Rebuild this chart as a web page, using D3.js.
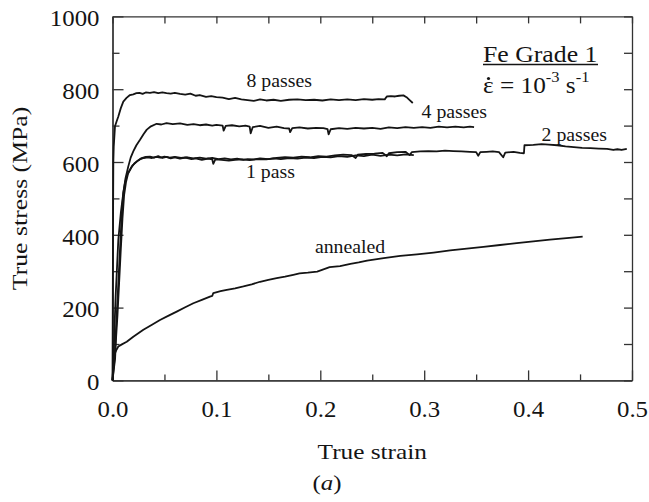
<!DOCTYPE html>
<html>
<head>
<meta charset="utf-8">
<script src="https://cdn.jsdelivr.net/npm/d3@7"></script>
<style>
  body { margin: 0; background: #fff; }
  svg { display: block; font-family: "Liberation Serif", "Times New Roman", serif; }
</style>
</head>
<body>
<svg id="chart" width="649" height="502"></svg>
<script>
// curves: [true strain, true stress (MPa)]
var pass8 = [[0,0],[0.0003,250],[0.0006,480],[0.0008,600],[0.0012,643],[0.0024,698],[0.004,712],[0.0056,725],[0.008,748],[0.0104,766],[0.0135,776],[0.0168,784],[0.020,786],[0.023,789],[0.026,790],[0.029,787],[0.032,791],[0.036,790],[0.040,792],[0.044,789],[0.048,791],[0.052,789],[0.056,788],[0.060,790],[0.065,787],[0.070,785],[0.075,788],[0.080,782],[0.084,784],[0.090,779],[0.095,781],[0.100,778],[0.106,777],[0.112,773],[0.118,776],[0.124,772],[0.130,770],[0.136,768],[0.142,772],[0.148,769],[0.155,771],[0.162,768],[0.170,771],[0.178,772],[0.186,770],[0.194,771],[0.202,769],[0.210,772],[0.218,770],[0.226,772],[0.234,770],[0.242,773],[0.250,771],[0.256,773],[0.262,772],[0.264,780],[0.268,781],[0.272,780],[0.276,782],[0.280,783],[0.283,778],[0.286,770],[0.289,762]]

var pass4 = [[0,0],[0.001,60],[0.002,150],[0.003,230],[0.0045,320],[0.0056,386],[0.008,460],[0.0104,515],[0.0125,555],[0.0152,588],[0.0175,612],[0.020,629],[0.023,646],[0.0265,661],[0.030,677],[0.033,689],[0.037,698],[0.0425,705],[0.047,703],[0.052,707],[0.058,704],[0.065,706],[0.072,702],[0.078,704],[0.084,701],[0.090,703],[0.096,700],[0.100,702],[0.106,700],[0.107,686],[0.109,699],[0.115,701],[0.122,698],[0.128,700],[0.132,697],[0.133,679],[0.135,696],[0.142,699],[0.150,694],[0.158,697],[0.165,693],[0.170,692],[0.171,682],[0.173,693],[0.180,695],[0.188,692],[0.196,694],[0.203,693],[0.207,690],[0.208,676],[0.210,690],[0.218,693],[0.226,691],[0.234,694],[0.242,692],[0.250,694],[0.258,691],[0.266,695],[0.274,693],[0.282,696],[0.290,694],[0.298,696],[0.306,694],[0.314,697],[0.322,695],[0.330,697],[0.338,695],[0.344,697],[0.348,696]]

var pass2 = [[0,0],[0.0025,60],[0.0035,120],[0.0048,180],[0.0064,270],[0.008,360],[0.0096,445],[0.0112,510],[0.013,545],[0.015,568],[0.018,584],[0.021,596],[0.024,603],[0.027,608],[0.030,611],[0.034,613],[0.038,611],[0.042,614],[0.046,612],[0.050,615],[0.055,612],[0.060,614],[0.066,611],[0.072,613],[0.078,610],[0.084,612],[0.090,609],[0.096,611],[0.102,608],[0.108,610],[0.114,607],[0.120,609],[0.126,606],[0.130,608],[0.136,607],[0.142,610],[0.150,608],[0.158,611],[0.166,613],[0.174,612],[0.182,615],[0.190,613],[0.198,616],[0.206,615],[0.214,618],[0.222,620],[0.230,619],[0.234,611],[0.236,620],[0.244,622],[0.252,623],[0.260,625],[0.264,616],[0.266,624],[0.274,627],[0.282,628],[0.286,619],[0.288,627],[0.296,629],[0.304,630],[0.312,629],[0.320,631],[0.328,630],[0.336,629],[0.344,628],[0.350,627],[0.352,617],[0.354,627],[0.360,628],[0.366,629],[0.372,627],[0.376,613],[0.378,626],[0.386,628],[0.392,625],[0.396,624],[0.3965,646],[0.405,647],[0.413,649],[0.420,648],[0.428,646],[0.436,643],[0.444,641],[0.452,639],[0.460,638],[0.468,637],[0.476,636],[0.482,633],[0.486,635],[0.490,633],[0.495,636]]

var pass1 = [[0,0],[0.002,60],[0.003,120],[0.004,175],[0.0056,267],[0.0072,359],[0.0088,450],[0.0104,515],[0.012,542],[0.014,565],[0.0168,579],[0.019,590],[0.0217,597],[0.025,605],[0.028,611],[0.032,614],[0.036,615],[0.040,612],[0.044,616],[0.048,611],[0.052,614],[0.056,610],[0.060,613],[0.065,609],[0.070,612],[0.076,608],[0.080,610],[0.086,606],[0.092,609],[0.096,607],[0.097,595],[0.099,607],[0.105,606],[0.112,604],[0.118,606],[0.125,607],[0.132,605],[0.140,608],[0.148,607],[0.155,610],[0.162,608],[0.170,611],[0.178,609],[0.186,612],[0.194,611],[0.202,614],[0.210,613],[0.218,616],[0.226,614],[0.234,618],[0.242,616],[0.250,620],[0.258,617],[0.266,620],[0.274,618],[0.282,621],[0.290,619]]

var annealed = [[0,0],[0.0008,40],[0.0016,62],[0.0024,75],[0.004,85],[0.0056,93],[0.009,99],[0.0137,106],[0.02,120],[0.0297,139],[0.038,153],[0.0457,166],[0.054,178],[0.0618,189],[0.07,201],[0.0778,212],[0.086,221],[0.0938,230],[0.096,232],[0.097,240],[0.104,245],[0.11,249],[0.118,253],[0.126,258],[0.134,264],[0.142,271],[0.15,276],[0.158,281],[0.166,285],[0.174,290],[0.18,294],[0.188,296],[0.197,299],[0.203,305],[0.209,311],[0.219,314],[0.229,320],[0.237,324],[0.245,329],[0.261,336],[0.277,342],[0.293,346],[0.309,351],[0.325,357],[0.341,362],[0.357,367],[0.373,372],[0.389,377],[0.405,382],[0.421,387],[0.437,391],[0.4525,395]]

var xTicks = [0, 0.1, 0.2, 0.3, 0.4, 0.5]
var xMinor = [0.05, 0.15, 0.25, 0.35, 0.45]
var yTicks = [0, 200, 400, 600, 800, 1000]
var yMinor = [100, 300, 500, 700, 900]

// curve labels: text, strain, stress at label baseline start
var curveLabels = [
  {text: "8 passes", sx: 0.129, sy: 805},
  {text: "4 passes", sx: 0.2975, sy: 721},
  {text: "2 passes", sx: 0.413, sy: 659},
  {text: "1 pass", sx: 0.1285, sy: 556},
  {text: "annealed", sx: 0.1948, sy: 351}
]

var dimensions = {
  width: 649,
  height: 502,
  margin: {top: 16.4, bottom: 502 - 380.4, left: 112.5, right: 649 - 632}
}

var svg = d3.select("#chart")
var ink = "#141414"

var xScale = d3.scaleLinear()
  .domain([0, 0.5])
  .range([dimensions.margin.left, dimensions.width - dimensions.margin.right])

var yScale = d3.scaleLinear()
  .domain([0, 1000])
  .range([dimensions.height - dimensions.margin.bottom, dimensions.margin.top])

// stretch glyphs a bit wider, the scanned type is wider than Times
function widen(sel, k) {
  sel.each(function() {
    var w = this.getComputedTextLength()
    d3.select(this).attr("textLength", w * k).attr("lengthAdjust", "spacingAndGlyphs")
  })
}

function styleAxis(g) {
  g.selectAll("path, line").attr("stroke", "#333").attr("stroke-width", 1.3)
  g.selectAll("text").attr("fill", ink).attr("font-family", "Liberation Serif").attr("font-size", 23)
}

var x0 = dimensions.margin.left, x1 = dimensions.width - dimensions.margin.right
var y0 = dimensions.height - dimensions.margin.bottom, y1 = dimensions.margin.top

// bottom axis
var xAxis = svg.append("g")
  .attr("transform", `translate(0,${y0})`)
  .call(d3.axisBottom(xScale).tickValues(xTicks).tickSize(-10).tickSizeOuter(0).tickPadding(20).tickFormat(d3.format(".1f")))
svg.append("g")
  .attr("transform", `translate(0,${y0})`)
  .call(d3.axisBottom(xScale).tickValues(xMinor).tickSize(-6).tickSizeOuter(0).tickFormat(""))
  .call(styleAxis)
xAxis.call(styleAxis)
widen(xAxis.selectAll("text"), 1.08)

// top axis
svg.append("g")
  .attr("transform", `translate(0,${y1})`)
  .call(d3.axisTop(xScale).tickValues(xTicks.concat(xMinor)).tickSize(-7).tickSizeOuter(0).tickFormat(""))
  .call(styleAxis)

// left axis
var yAxis = svg.append("g")
  .attr("transform", `translate(${x0},0)`)
  .call(d3.axisLeft(yScale).tickValues(yTicks).tickSize(-11).tickSizeOuter(0).tickPadding(13).tickFormat(d3.format("d")))
yAxis.call(styleAxis)
yAxis.selectAll("text").attr("dy", "0.4em")
widen(yAxis.selectAll("text"), 1.08)
svg.append("g")
  .attr("transform", `translate(${x0},0)`)
  .call(d3.axisLeft(yScale).tickValues(yMinor).tickSize(-7).tickSizeOuter(0).tickFormat(""))
  .call(styleAxis)

// right axis
svg.append("g")
  .attr("transform", `translate(${x1},0)`)
  .call(d3.axisRight(yScale).tickValues(yTicks.concat(yMinor)).tickSize(-8).tickSizeOuter(0).tickFormat(""))
  .call(styleAxis)

// curves
var line = d3.line()
  .x(d => xScale(d[0]))
  .y(d => yScale(d[1]))

var curves = [pass8, pass4, pass2, pass1, annealed]
svg.append("g")
  .selectAll("path")
  .data(curves)
  .enter()
  .append("path")
    .attr("d", line)
    .attr("fill", "none")
    .attr("stroke", ink)
    .attr("stroke-width", 1.8)
    .attr("stroke-linejoin", "round")

// curve labels
svg.append("g")
  .selectAll("g")
  .data(curveLabels)
  .enter()
  .append("g")
    .attr("transform", d => `translate(${xScale(d.sx)},${yScale(d.sy)}) scale(1.1,1)`)
  .append("text")
    .attr("font-size", 18)
    .attr("fill", ink)
    .text(d => d.text)

// material / strain-rate note
var note = svg.append("g").attr("transform", "translate(483,61.7) scale(1.12,1)")
note.append("text").attr("font-size", 23).attr("fill", ink).text("Fe Grade 1")
svg.append("line")
  .attr("x1", 483).attr("x2", 598).attr("y1", 64.5).attr("y2", 64.5)
  .attr("stroke", ink).attr("stroke-width", 1.4)

var rate = svg.append("g").attr("transform", "translate(483,93.3) scale(1.1,1)")
  .append("text").attr("font-size", 23).attr("fill", ink)
rate.append("tspan").text("\u03B5 = 10")
rate.append("tspan").attr("font-size", 15).attr("dy", -11).text("-3")
rate.append("tspan").attr("dy", 11).text(" s")
rate.append("tspan").attr("font-size", 15).attr("dy", -11).text("-1")
// dot over epsilon (strain rate)
svg.append("circle").attr("cx", 488.5).attr("cy", 78.5).attr("r", 1.6).attr("fill", ink)

// axis titles
svg.append("g").attr("transform", `translate(${(x0 + x1) / 2},459) scale(1.15,1)`)
  .append("text").attr("text-anchor", "middle").attr("font-size", 22).attr("fill", ink)
  .text("True strain")

svg.append("g").attr("transform", `translate(27,${(y0 + y1) / 2}) rotate(-90) scale(1.17,1)`)
  .append("text").attr("text-anchor", "middle").attr("font-size", 22).attr("fill", ink)
  .text("True stress (MPa)")

svg.append("g").attr("transform", "translate(327,490) scale(1.13,1)")
  .append("text").attr("text-anchor", "middle").attr("font-size", 22).attr("fill", ink)
  .text("(")
  .append("tspan").attr("font-style", "italic").text("a")
  .select(function() { return this.parentNode })
  .append("tspan").text(")")
</script>
</body>
</html>
